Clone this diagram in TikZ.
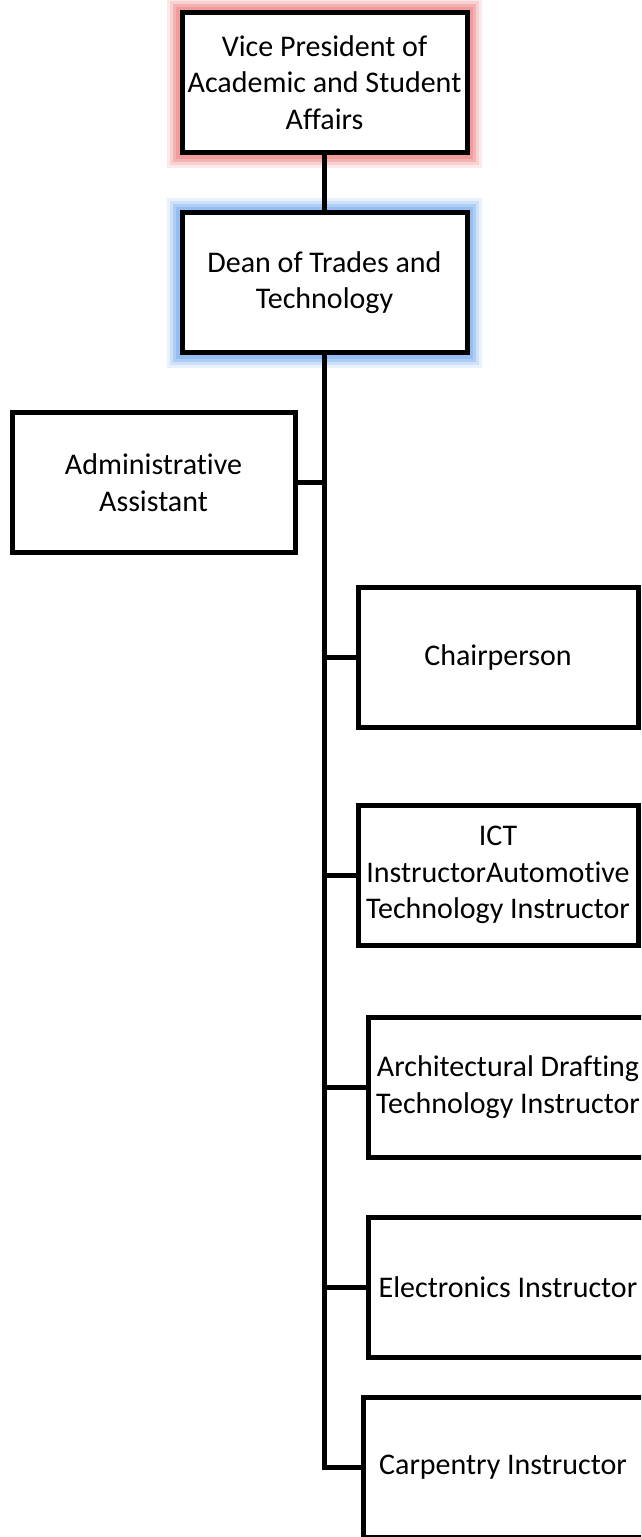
\documentclass[tikz,border=0pt]{standalone}
\usepackage{fontspec}
\setmainfont{Carlito}[Ligatures={NoCommon,NoContextual}, RawFeature={-liga;-clig;-calt}]
\usetikzlibrary{positioning}
\hyphenpenalty=10000
\exhyphenpenalty=10000
\definecolor{glowred}{RGB}{235,110,110}
\definecolor{glowblue}{RGB}{100,160,235}
\tikzstyle{post} = [rectangle, draw, fill=white, line width=5pt, align=flush center, inner sep=1pt, minimum height=140pt, minimum width=283pt, text width=278pt, font=\fontsize{30}{36.6}\selectfont]
\tikzstyle{rpost} = [post, minimum width=280pt]
\tikzstyle{redglow} = [preaction={draw=glowred, line width=30pt, opacity=0.15, rounded corners=12pt}, preaction={draw=glowred, line width=24pt, opacity=0.2, rounded corners=9pt}, preaction={draw=glowred, line width=18pt, opacity=0.3, rounded corners=6pt}, preaction={draw=glowred, line width=12pt, opacity=0.35, rounded corners=3pt}]
\tikzstyle{blueglow} = [preaction={draw=glowblue, line width=30pt, opacity=0.15, rounded corners=12pt}, preaction={draw=glowblue, line width=24pt, opacity=0.2, rounded corners=9pt}, preaction={draw=glowblue, line width=18pt, opacity=0.3, rounded corners=6pt}, preaction={draw=glowblue, line width=12pt, opacity=0.35, rounded corners=3pt}]
\tikzstyle{link} = [line width=5pt]

\begin{document}
\begin{tikzpicture}[node distance=200pt]
    \clip (0,0) rectangle (641pt,-1537pt);

    % Top of the chart
    \node (vp) [post, redglow, minimum width=285pt] at (324.5pt,-82.5pt) {Vice President of Academic and Student Affairs};
    \node (dean) [post, blueglow, minimum width=285pt, below of=vp] {Dean of Trades and Technology};
    \node (admin) [post, below of=dean, xshift=-171pt] {Administrative Assistant};

    % Staff under the dean
    \node (chair) [rpost, below of=admin, xshift=344.5pt, yshift=25.5pt] {Chairperson};
    \node (ict) [rpost, below of=chair, yshift=-18pt] {ICT InstructorAutomotive Technology Instructor};
    \node (arch) [rpost, below of=ict, xshift=10pt, yshift=-12pt] {Architectural Drafting Technology Instructor};
    \node (elec) [rpost, below of=arch] {Electronics Instructor};
    \node (carp) [rpost, below of=elec, xshift=-5pt, yshift=20pt] {Carpentry Instructor};

    % ==== Lines
    \draw [link] (vp) -- (dean);
    \draw [link] (dean) |- (admin);
    \draw [link] (dean) |- (chair);
    \draw [link] (dean) |- (ict);
    \draw [link] (dean) |- (arch);
    \draw [link] (dean) |- (elec);
    \draw [link] (dean) |- (carp);

\end{tikzpicture}
\end{document}
